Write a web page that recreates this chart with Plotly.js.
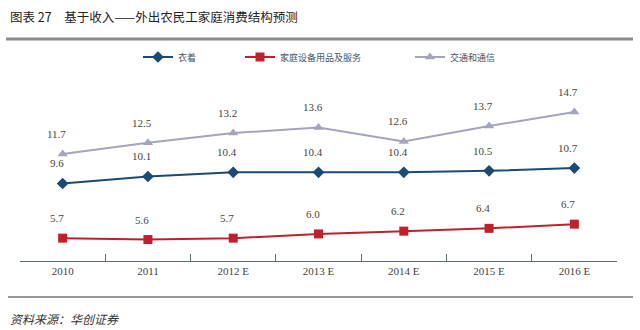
<!DOCTYPE html>
<html><head><meta charset="utf-8">
<script src="https://cdn.plot.ly/plotly-3.0.1.min.js"></script>
<style>body{margin:0;background:#fff}#c{width:640px;height:330px}</style>
</head><body><div id="c"></div>
<script>
const categories = ["2010","2011","2012 E","2013 E","2014 E","2015 E","2016 E"];
const clothing = [9.6,10.1,10.4,10.4,10.4,10.5,10.7];
const household = [5.7,5.6,5.7,6.0,6.2,6.4,6.7];
const transport = [11.7,12.5,13.2,13.6,12.6,13.7,14.7];
const names = ["衣着","家庭设备用品及服务","交通和通信"];

const colors = ["#1b4a72","#c0202e","#a3a4bd"];
const symbols = ["diamond","square","triangle-up"];
const series = [clothing, household, transport];

const traces = series.map((s,i)=>({
  x: categories, y: s, name: names[i], type:"scatter", mode:"lines+markers",
  line:{color:colors[i], width:2},
  marker:{symbol:symbols[i], size:9, color:colors[i]},
  legend: i===0?"legend":(i===1?"legend2":"legend3"),
  hoverinfo:"none"
}));

const annotations = [];
series.forEach((s)=>{
  s.forEach((v,j)=>{
    annotations.push({x:j, y:v, xref:"x", yref:"y", text:v.toFixed(1),
      showarrow:false, yshift:20, xshift:-6,
      font:{family:"Liberation Serif, serif", size:11, color:"#444"}});
  });
});
annotations.push({xref:"paper",yref:"paper",x:-12/597,y:1+(75-16)/186,xanchor:"left",yanchor:"middle",
  text:"图表 27\u3000基于收入——外出农民工家庭消费结构预测", showarrow:false,
  font:{family:"Noto Sans CJK SC", size:12.5, color:"#222"}});
annotations.push({xref:"paper",yref:"paper",x:-12/597,y:-(318-261)/186,xanchor:"left",yanchor:"middle",
  text:"<i>资料来源：华创证券</i>", showarrow:false,
  font:{family:"Noto Sans CJK SC", size:12, color:"#333"}});

const legendBase = {orientation:"h", xref:"container", yref:"container", yanchor:"middle",
  y: 1-57/330, bgcolor:"rgba(0,0,0,0)",
  font:{family:"Noto Sans CJK SC", size:9, color:"#44546a"}, itemwidth:30};

const layout = {
  width:640, height:330, paper_bgcolor:"#fff", plot_bgcolor:"#fff",
  margin:{l:20, r:23, t:75, b:69},
  showlegend:true,
  legend: Object.assign({}, legendBase, {x:138/640}),
  legend2: Object.assign({}, legendBase, {x:240/640}),
  legend3: Object.assign({}, legendBase, {x:410/640}),
  xaxis:{type:"category", range:[-0.5,6.5], showgrid:false, zeroline:false,
    showline:true, linecolor:"#5c6e6e", linewidth:1,
    ticks:"inside", tickson:"boundaries", ticklen:7, tickcolor:"#5c6e6e",
    tickfont:{family:"Liberation Serif, serif", size:11, color:"#444"}, fixedrange:true},
  yaxis:{range:[4.07,17.34], visible:false, fixedrange:true},
  annotations: annotations,
  shapes:[
    {type:"line", xref:"paper", yref:"paper", x0:-14/597, x1:613/597, y0:1+(75-39)/186, y1:1+(75-39)/186,
     line:{color:"#8a8a8a", width:3}},
    {type:"line", xref:"paper", yref:"paper", x0:-12/597, x1:613/597, y0:-(297-261)/186, y1:-(297-261)/186,
     line:{color:"#333", width:1}}
  ]
};

Plotly.newPlot("c", traces, layout, {displayModeBar:false, staticPlot:true});
</script></body></html>
